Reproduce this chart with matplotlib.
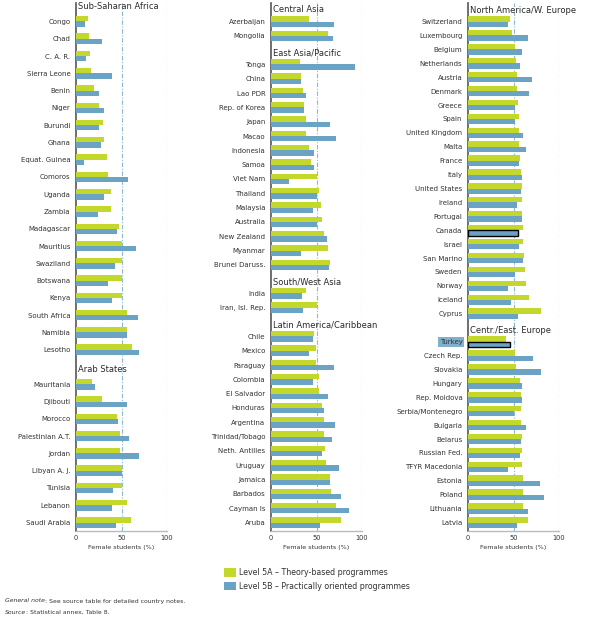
import matplotlib.pyplot as plt
from matplotlib.patches import Patch

plt.rcParams['font.family'] = ['Liberation Sans Narrow', 'DejaVu Sans']

GREEN = '#c4d82c'
BLUE = '#6aa3c3'
TEXT = '#333333'

# ---- data: female share of students (%), level 5A and 5B ----
ssa_countries = ['Congo', 'Chad', 'C. A. R.', 'Sierra Leone', 'Benin', 'Niger', 'Burundi',
                 'Ghana', 'Equat. Guinea', 'Comoros', 'Uganda', 'Zambia', 'Madagascar',
                 'Mauritius', 'Swaziland', 'Botswana', 'Kenya', 'South Africa', 'Namibia', 'Lesotho']
ssa_5a = [13, 14, 15.5, 16.5, 20, 25.5, 30, 31, 34, 35.5, 38.5, 38.5, 47.5, 50, 50, 50, 51, 55.5, 56.5, 62]
ssa_5b = [10, 29, 11, 40, 25.5, 31, 25.5, 27.5, 9, 57.5, 31, 24.5, 45.5, 65.5, 43, 35.5, 40, 68.5, 56.5, 69.5]

arab_countries = ['Mauritania', 'Djibouti', 'Morocco', 'Palestinian A.T.', 'Jordan',
                  'Libyan A. J.', 'Tunisia', 'Lebanon', 'Saudi Arabia']
arab_5a = [17.5, 29, 45.5, 48.5, 48.5, 50, 51, 55.5, 60]
arab_5b = [21, 56.5, 46.5, 58.5, 69.5, 50, 41, 40, 44.5]

casia_countries = ['Azerbaijan', 'Mongolia']
casia_5a = [41.5, 62.5]
casia_5b = [69, 68]

eap_countries = ['Tonga', 'China', 'Lao PDR', 'Rep. of Korea', 'Japan', 'Macao', 'Indonesia',
                 'Samoa', 'Viet Nam', 'Thailand', 'Malaysia', 'Australia', 'New Zealand',
                 'Myanmar', 'Brunei Daruss.']
eap_5a = [32, 33, 35, 36, 38.5, 38.5, 41.5, 44, 50.5, 52.5, 54.5, 56, 58, 62.5, 64.5]
eap_5b = [92, 33, 38.5, 36, 64.5, 71, 47, 47, 19.5, 50.5, 46, 50.5, 61.5, 33, 63.5]

swa_countries = ['India', 'Iran, Isl. Rep.']
swa_5a = [38.5, 50.5]
swa_5b = [34, 35]

lac_countries = ['Chile', 'Mexico', 'Paraguay', 'Colombia', 'El Salvador', 'Honduras',
                 'Argentina', 'Trinidad/Tobago', 'Neth. Antilles', 'Uruguay', 'Jamaica',
                 'Barbados', 'Cayman Is', 'Aruba']
lac_5a = [47, 49.5, 49.5, 52.5, 52.5, 56, 58, 58, 59, 60, 64.5, 65.5, 71, 76.5]
lac_5b = [46, 41.5, 69, 46, 62.5, 58, 70, 67, 56, 74.5, 64.5, 76.5, 85.5, 53.5]

nawe_countries = ['Switzerland', 'Luxembourg', 'Belgium', 'Netherlands', 'Austria', 'Denmark',
                  'Greece', 'Spain', 'United Kingdom', 'Malta', 'France', 'Italy',
                  'United States', 'Ireland', 'Portugal', 'Canada', 'Israel', 'San Marino',
                  'Sweden', 'Norway', 'Iceland', 'Cyprus']
nawe_5a = [46, 48, 51.5, 52.5, 53.5, 53.5, 54.5, 55.5, 55.5, 55.5, 57, 58,
           59, 59, 59, 60, 60, 61, 62.5, 63.5, 66.5, 80]
nawe_5b = [43.5, 65.5, 59, 57, 70, 66.5, 51.5, 51.5, 60, 63.5, 55.5, 59,
           58, 53.5, 59, 54.5, 55.5, 60, 51.5, 43.5, 47, 54.5]

cee_countries = ['Turkey', 'Czech Rep.', 'Slovakia', 'Hungary', 'Rep. Moldova',
                 'Serbia/Montenegro', 'Bulgaria', 'Belarus', 'Russian Fed.', 'TFYR Macedonia',
                 'Estonia', 'Poland', 'Lithuania', 'Latvia']
cee_5a = [41.5, 51.5, 52.5, 57, 58, 58, 58, 59, 59, 59, 60, 60, 60, 65.5]
cee_5b = [46, 71, 80, 59, 59, 50, 63.5, 58, 57, 44.5, 79, 83, 65.5, 53.5]

highlighted = ['Canada', 'Turkey']

panels = [
    [('Sub-Saharan Africa', ssa_countries, ssa_5a, ssa_5b),
     ('Arab States', arab_countries, arab_5a, arab_5b)],
    [('Central Asia', casia_countries, casia_5a, casia_5b),
     ('East Asia/Pacific', eap_countries, eap_5a, eap_5b),
     ('South/West Asia', swa_countries, swa_5a, swa_5b),
     ('Latin America/Caribbean', lac_countries, lac_5a, lac_5b)],
    [('North America/W. Europe', nawe_countries, nawe_5a, nawe_5b),
     ('Centr./East. Europe', cee_countries, cee_5a, cee_5b)],
]

W, H = 610, 620
fig = plt.figure(figsize=(W / 100, H / 100), dpi=100)

lefts = [76, 271, 468]
ax_top, ax_bottom = 3, 531       # pixel rows of the axes box
first_px, last_px = 21.5, 522.5  # pixel rows of first and last country

for left, groups in zip(lefts, panels):
    ax = fig.add_axes([left / W, 1 - ax_bottom / H, 91 / W, (ax_bottom - ax_top) / H])

    ys, names, va, vb, heads = [], [], [], [], []
    slot = 0
    for title, countries, a, b in groups:
        heads.append((slot, title))
        slot += 1
        for c, x5a, x5b in zip(countries, a, b):
            ys.append(slot)
            names.append(c)
            va.append(x5a)
            vb.append(x5b)
            slot += 1
    n = slot - 1
    s = (last_px - first_px) / (n - 1)   # pixels per slot
    ax.set_ylim(n + (ax_bottom - last_px) / s, 1 - (first_px - ax_top) / s)
    ax.set_xlim(0, 100)

    h = 5.3 / s
    ax.barh([y - h / 2 for y in ys], va, height=h, color=GREEN, zorder=3)
    edges = ['black' if c in highlighted else 'none' for c in names]
    ax.barh([y + h / 2 for y in ys], vb, height=h, color=BLUE, zorder=3,
            edgecolor=edges, linewidth=1.0)

    for x in (50, 100):
        ax.axvline(x, color='#8bb9d6', lw=0.8, ls=(0, (4, 1.5, 1, 1.5)), zorder=1)

    for sl, title in heads:
        ax.text(2.5, sl + 2.5 / s, title, fontsize=6.0, color='#2a2a2a', va='center', ha='left')

    ax.set_yticks(ys, names, fontsize=5.0, color=TEXT)
    for lab in ax.get_yticklabels():
        if lab.get_text() == 'Turkey':
            lab.set_bbox(dict(facecolor=BLUE, edgecolor='none', pad=1.2, alpha=0.85))
    ax.set_xticks([0, 50, 100], ['0', '50', '100'], fontsize=4.8, color=TEXT)
    ax.tick_params(axis='both', length=0)
    ax.tick_params(axis='y', pad=4)
    ax.tick_params(axis='x', pad=3)
    ax.set_xlabel('Female students (%)', fontsize=4.6, color=TEXT, labelpad=3)

    for side in ('top', 'right'):
        ax.spines[side].set_visible(False)
    ax.spines['left'].set_color('#555555')
    ax.spines['left'].set_linewidth(1.2)
    ax.spines['bottom'].set_color('#bbbbbb')
    ax.spines['bottom'].set_linewidth(1.0)

handles = [Patch(facecolor=GREEN, label='Level 5A \u2013 Theory-based programmes'),
           Patch(facecolor=BLUE, label='Level 5B \u2013 Practically oriented programmes')]
fig.legend(handles=handles, loc='upper left', bbox_to_anchor=(221 / W, 1 - 565 / H),
           frameon=False, fontsize=5.7, handlelength=1.5, handleheight=1.3,
           handletextpad=0.4, labelspacing=0.55, labelcolor=TEXT, borderaxespad=0)

renderer = fig.canvas.get_renderer()
for row, (lead, rest) in enumerate([('General note', ': See source table for detailed country notes.'),
                                    ('Source', ': Statistical annex, Table 8.')]):
    y = 1 - (601 + row * 11) / H
    t = fig.text(5 / W, y, lead, fontsize=4.4, style='italic', color=TEXT, va='center')
    bb = t.get_window_extent(renderer)
    fig.text(bb.x1 / W, y, rest, fontsize=4.4, color=TEXT, va='center')

fig.savefig('out.png', dpi=100)
